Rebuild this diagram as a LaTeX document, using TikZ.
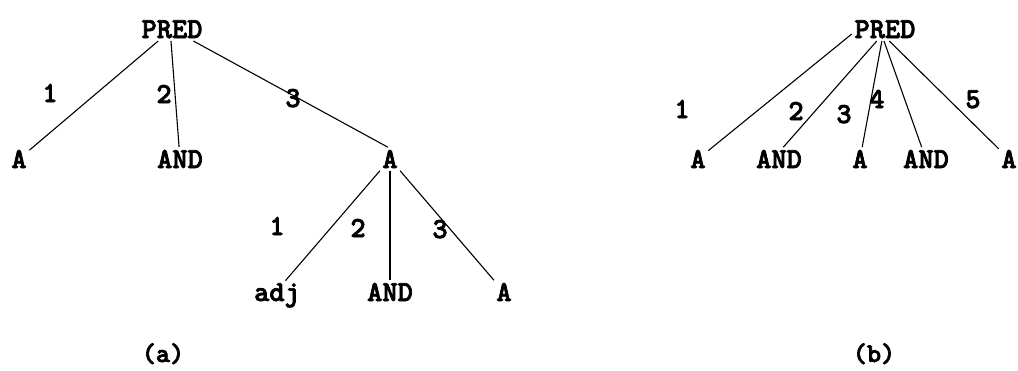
\documentclass[tikz,border=0pt]{standalone}
\usepackage{fontspec}
\newfontfamily\tw{lmmonolt10-bold.otf}[FakeBold=2.5]
\begin{document}
\begin{tikzpicture}[x=1pt,y=-1pt,
  word/.style={font=\tw\fontsize{29}{31}\selectfont, inner sep=2.5pt, anchor=base},
  num/.style={font=\tw\fontsize{29}{31}\selectfont, inner sep=0pt, anchor=base},
  figcap/.style={font=\tw\fontsize{27}{29}\selectfont, inner sep=0pt, anchor=base},
  edge/.style={line width=1.1pt, black}]
\useasboundingbox (0,0) rectangle (1018,370);
% ---- tree (a)
\node[word] (pa) at (172,38) {PRED};
\node[word] (a1) at (19,168) {A};
\node[word] (and1) at (180,168) {AND};
\node[word] (a2) at (390,168) {A};
\node[word] (adj) at (277,301) {adj};
\node[word] (and2) at (390,301) {AND};
\node[word] (a3) at (504,301) {A};
\draw[edge] (pa) -- (a1);
\draw[edge] (pa.-95) -- (and1);
\draw[edge] (pa) -- (a2.100);
\draw[edge] (a2) -- (adj.60);
\draw[edge] (a2) -- (and2);
\draw[edge] (a2) -- (a3);
\node[num] (la1) at (50,102) {1};
\node[num] (la2) at (164,103) {2};
\node[num] (la3) at (293,107) {3};
\node[num] (lb1) at (277,235) {1};
\node[num] (lb2) at (358,237) {2};
\node[num] (lb3) at (440,238) {3};
\node[figcap] (capa) at (163,362) {(a)};
% ---- tree (b)
\node[word] (pb) at (885,38) {PRED};
\node[word] (b1) at (698,168) {A};
\node[word] (b2) at (779,168) {AND};
\node[word] (b3) at (860,168) {A};
\node[word] (b4) at (926,168) {AND};
\node[word] (b5) at (1009,168) {A};
\draw[edge] (pb.188) -- (b1);
\draw[edge] (pb.-125) -- (b2.70);
\draw[edge] (pb.-105) -- (b3);
\draw[edge] (pb.-95) -- (b4.110);
\draw[edge] (pb.-70) -- (b5);
\node[num] (lc1) at (682,118) {1};
\node[num] (lc2) at (796,120) {2};
\node[num] (lc3) at (844,123) {3};
\node[num] (lc4) at (877,108) {4};
\node[num] (lc5) at (973,108) {5};
\node[figcap] (capb) at (874,362) {(b)};
\end{tikzpicture}
\end{document}
